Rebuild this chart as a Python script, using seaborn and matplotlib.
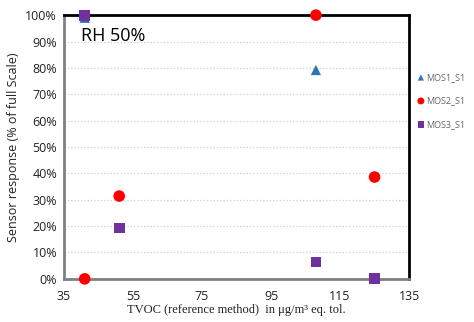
import matplotlib
matplotlib.use("Agg")
import matplotlib.pyplot as plt
import seaborn as sns
import pandas as pd
from matplotlib.ticker import FuncFormatter

series = ["MOS1_S1", "MOS2_S1", "MOS3_S1"]
mos1_x = [41, 108]
mos1_y = [99, 79.2]
mos2_x = [41, 51, 108, 125]
mos2_y = [0, 31.4, 100, 38.6]
mos3_x = [41, 51, 108, 125]
mos3_y = [100, 19.3, 6.4, 0]
x_ticks = [35, 55, 75, 95, 115, 135]
y_ticks = [0, 10, 20, 30, 40, 50, 60, 70, 80, 90, 100]

df = pd.concat([
    pd.DataFrame({"x": mos1_x, "y": mos1_y, "s": series[0]}),
    pd.DataFrame({"x": mos2_x, "y": mos2_y, "s": series[1]}),
    pd.DataFrame({"x": mos3_x, "y": mos3_y, "s": series[2]}),
])

sns.set_theme(style="white")
plt.rcParams['font.family'] = ['Open Sans', 'DejaVu Sans']

fig = plt.figure(figsize=(4.74, 3.22), dpi=100)
ax = fig.add_axes([0.135, 0.134, 0.728, 0.819])

palette = {"MOS1_S1": "#2E75B6", "MOS2_S1": "#FF0000", "MOS3_S1": "#7030A0"}
markers = {"MOS1_S1": "^", "MOS2_S1": "o", "MOS3_S1": "s"}
sizes = {"MOS1_S1": 55, "MOS2_S1": 70, "MOS3_S1": 60}
for s in series:
    sub = df[df.s == s]
    sns.scatterplot(data=sub, x="x", y="y", color=palette[s], marker=markers[s],
                    s=sizes[s], edgecolor="none", ax=ax, clip_on=False, zorder=5, label=s)

ax.set_xlim(35, 135)
ax.set_ylim(0, 100)
ax.set_xticks(x_ticks)
ax.set_yticks(y_ticks)
ax.yaxis.set_major_formatter(FuncFormatter(lambda v, p: f"{int(v)}%"))
ax.tick_params(axis="both", labelsize=9, colors="#222222", length=0, pad=5)
ax.tick_params(axis="x", direction="in", length=3, color="#999999", width=1, pad=8)
ax.grid(axis="y", linestyle=":", color="#CFCFCF", linewidth=0.9)
ax.grid(axis="x", visible=False)
for side in ["left", "bottom"]:
    ax.spines[side].set_color("#808080")
    ax.spines[side].set_linewidth(2)
for side in ["top", "right"]:
    ax.spines[side].set_color("black")
    ax.spines[side].set_linewidth(2)

ax.set_xlabel("TVOC (reference method)  in \u03bcg/m\u00b3 eq. tol.", family="Liberation Serif",
              fontsize=9, color="#222222", labelpad=1)
ax.set_ylabel("Sensor response (% of full Scale)", fontsize=9, color="#222222", labelpad=4)
ax.text(0.05, 0.92, "RH 50%", transform=ax.transAxes, fontsize=13, color="black", va="center")

ax.legend(loc="center left", bbox_to_anchor=(0.995, 0.675), frameon=False, fontsize=6.5,
          handletextpad=0.0, labelspacing=1.6, markerscale=0.6, labelcolor="#666666",
          handlelength=1.2)

fig.savefig("out.png", dpi=100)
